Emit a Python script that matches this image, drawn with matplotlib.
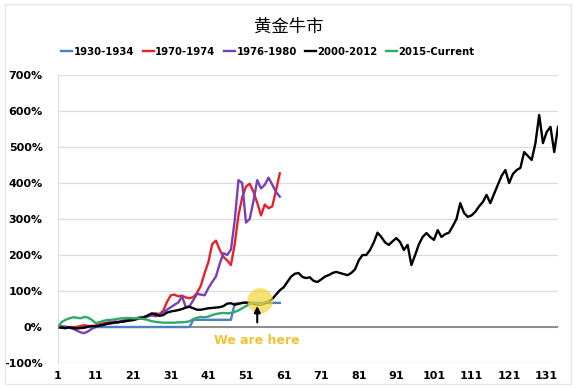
import matplotlib
matplotlib.use("Agg")
import matplotlib.pyplot as plt
from matplotlib.patches import Ellipse, Rectangle
import numpy as np

# ---------------- data (percent gain) ----------------
blue_1930 = [0]*36 + [20]*11 + [65, 66, 67, 67, 67, 67, 67, 67, 67, 67, 67, 67, 67]
red_1970 = [0, -2, -3, -1, -2, 0, 3, 5, 3, 2, 4, 7, 10, 12, 14, 15, 13, 17, 20, 22,
            21, 25, 28, 26, 30, 35, 38, 36, 45, 70, 88, 90, 85, 87, 82, 80, 83, 95, 115, 150,
            180, 230, 240, 215, 195, 185, 172, 230, 310, 360, 390, 398, 375, 345, 310, 340, 330, 335, 380, 427]
purple_1976 = [0, 2, 1, -2, -5, -10, -15, -17, -12, -5, 0, 3, 5, 8, 12, 14, 15, 14, 17, 20,
               22, 24, 26, 28, 30, 32, 30, 33, 40, 48, 55, 62, 68, 85, 55, 58, 75, 92, 90, 88,
               108, 125, 140, 175, 205, 200, 215, 295, 408, 400, 290, 300, 350, 408, 385, 395, 415, 395, 375, 362]
black_2000 = [0, -2, -3, -1, -3, -4, -3, -2, 1, 3, 2, 4, 6, 9, 10, 12, 13, 15, 16, 18,
              19, 22, 24, 28, 33, 38, 35, 31, 33, 40, 43, 45, 47, 50, 54, 56, 52, 48, 48, 50,
              52, 53, 54, 55, 58, 65, 66, 62, 64, 67, 68, 67, 65, 62, 62, 66, 70, 78, 90, 102,
              110, 125, 140, 148, 150, 139, 136, 138, 128, 125, 132, 140, 144, 150, 153, 150, 147, 144, 150, 160,
              185, 200, 200, 214, 235, 262, 250, 235, 228, 238, 247, 236, 214, 228, 172, 200, 230, 250, 261, 250,
              242, 269, 250, 258, 262, 280, 300, 344, 317, 306, 310, 320, 335, 347, 367, 344, 370, 395, 420, 436,
              400, 425, 436, 442, 486, 475, 464, 511, 589, 511, 542, 556, 486, 556]
green_2015 = [0, 14, 20, 24, 27, 26, 24, 28, 26, 20, 11, 13, 17, 19, 20, 21, 23, 24, 25, 25,
              24, 24, 23, 22, 19, 16, 14, 13, 12, 12, 12, 12, 13, 13, 14, 16, 22, 26, 28, 27,
              29, 33, 36, 38, 39, 38, 39, 42, 46, 52, 58, 64, 68, 64, 62, 68, 72]

series = [
    ("1930-1934", blue_1930, "#4F7EC4"),
    ("1970-1974", red_1970, "#E3242B"),
    ("1976-1980", purple_1976, "#7A3FB8"),
    ("2000-2012", black_2000, "#000000"),
    ("2015-Current", green_2015, "#2EAA6A"),
]
x_ticks = list(range(1, 132, 10))
y_ticks = list(range(-100, 701, 100))

# ---------------- figure ----------------
fig = plt.figure(figsize=(5.77, 3.88), dpi=100)
ax = fig.add_axes([58/577, 1-363/388, 500/577, 288/388])

for lab, vals, col in series:
    xs = np.arange(1, len(vals)+1)
    ax.plot(xs, vals, color=col, lw=1.7, label=lab, zorder=3)

ax.set_xlim(1, 134)
ax.set_ylim(-100, 700)
ax.set_yticks(y_ticks)
ax.set_yticklabels([f"{v}%" for v in y_ticks])
ax.set_xticks(x_ticks)
ax.set_xticklabels([str(v) for v in x_ticks])
ax.tick_params(length=0, labelsize=8)
for t in ax.get_xticklabels() + ax.get_yticklabels():
    t.set_fontweight("bold")
ax.tick_params(axis="y", pad=11)
ax.tick_params(axis="x", pad=6)
ax.grid(axis="y", color="#DDDDDD", lw=0.9, zorder=0)
ax.axhline(0, color="#8C8C8C", lw=1.4, zorder=2)
for s in ["top", "right", "bottom"]:
    ax.spines[s].set_visible(False)
ax.spines["left"].set_color("#DDDDDD")

# annotation
ax.add_patch(Ellipse((54.8, 73), 6.8, 70, color="#F5D33A", alpha=0.7, zorder=4, lw=0))
ax.annotate("", xy=(54, 66), xytext=(54, 5),
            arrowprops=dict(arrowstyle="-|>", color="black", lw=1.5, mutation_scale=9), zorder=5)
ax.text(54, -38, "We are here", color="#F2C230", fontsize=9, fontweight="bold",
        ha="center", va="center", zorder=5)

fig.text(0.5, 1-27/388, "黄金牛市", ha="center", va="center", fontsize=12.5,
         family=["Noto Sans CJK SC", "DejaVu Sans"])
fig.legend(loc="center", bbox_to_anchor=(268/577, 1-52/388), ncol=5, frameon=False,
           handlelength=1.1, handletextpad=0.15, columnspacing=0.8,
           prop={"weight": "bold", "size": 7.3})

fig.patches.append(Rectangle((5/577, 4/388), 566/577, 380/388, transform=fig.transFigure,
                             fill=False, edgecolor="#E6E6E6", lw=1))

fig.savefig("out.png", dpi=100)
